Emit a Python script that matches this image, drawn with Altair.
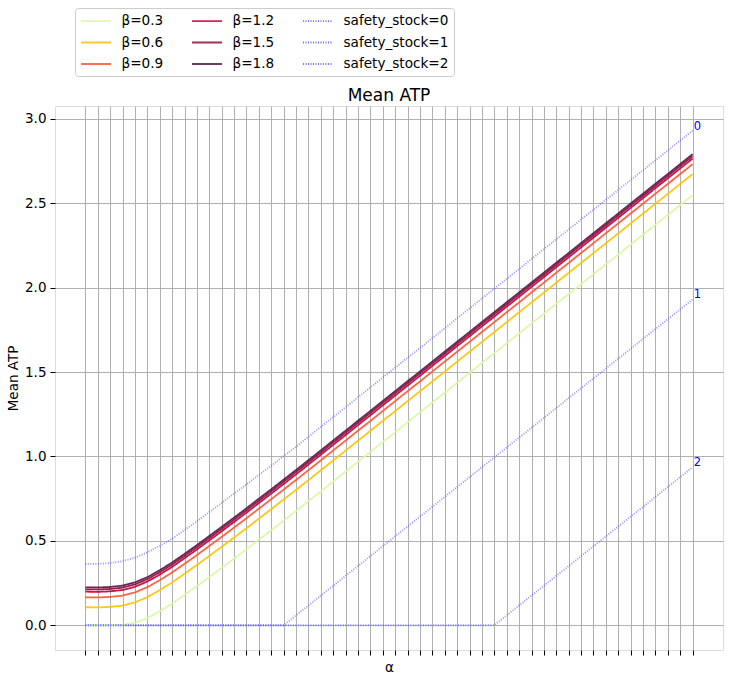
import altair as alt
import pandas as pd

idx = list(range(50))

beta_names = ["β=0.3", "β=0.6", "β=0.9", "β=1.2", "β=1.5", "β=1.8"]
beta_colors = ["#DAF7A6", "#FFC300", "#FF5733", "#C70039", "#900C3F", "#581845"]

b03 = [0.0, 0.0, 0.0, 0.003, 0.015, 0.042, 0.083, 0.129, 0.180, 0.232, 0.286, 0.340, 0.395, 0.450, 0.507,
       0.563, 0.620, 0.677, 0.735, 0.793, 0.852, 0.910, 0.969, 1.027, 1.086, 1.144, 1.203, 1.261, 1.320, 1.378,
       1.437, 1.495, 1.554, 1.612, 1.671, 1.729, 1.788, 1.846, 1.905, 1.963, 2.022, 2.080, 2.139, 2.197, 2.256,
       2.314, 2.373, 2.431, 2.490, 2.548]
b06 = [0.107, 0.106, 0.109, 0.117, 0.136, 0.167, 0.208, 0.254, 0.305, 0.357, 0.411, 0.465, 0.520, 0.575, 0.632,
       0.688, 0.745, 0.802, 0.860, 0.918, 0.977, 1.035, 1.094, 1.152, 1.211, 1.269, 1.328, 1.386, 1.445, 1.503,
       1.562, 1.620, 1.679, 1.737, 1.796, 1.854, 1.913, 1.971, 2.030, 2.088, 2.147, 2.205, 2.264, 2.322, 2.381,
       2.439, 2.498, 2.556, 2.615, 2.673]
b09 = [0.166, 0.165, 0.168, 0.176, 0.195, 0.226, 0.267, 0.313, 0.364, 0.416, 0.470, 0.524, 0.579, 0.634, 0.691,
       0.747, 0.804, 0.861, 0.919, 0.977, 1.036, 1.094, 1.153, 1.211, 1.270, 1.328, 1.387, 1.445, 1.504, 1.562,
       1.621, 1.679, 1.738, 1.796, 1.855, 1.913, 1.972, 2.030, 2.089, 2.147, 2.206, 2.264, 2.323, 2.381, 2.440,
       2.498, 2.557, 2.615, 2.674, 2.732]
b12 = [0.199, 0.198, 0.201, 0.209, 0.228, 0.259, 0.300, 0.346, 0.397, 0.449, 0.503, 0.557, 0.612, 0.667, 0.724,
       0.780, 0.837, 0.894, 0.952, 1.010, 1.069, 1.127, 1.186, 1.244, 1.303, 1.361, 1.420, 1.478, 1.537, 1.595,
       1.654, 1.712, 1.771, 1.829, 1.888, 1.946, 2.005, 2.063, 2.122, 2.180, 2.239, 2.297, 2.356, 2.414, 2.473,
       2.531, 2.590, 2.648, 2.707, 2.765]
b15 = [0.213, 0.212, 0.215, 0.223, 0.242, 0.273, 0.314, 0.360, 0.411, 0.463, 0.517, 0.571, 0.626, 0.681, 0.738,
       0.794, 0.851, 0.908, 0.966, 1.024, 1.083, 1.141, 1.200, 1.258, 1.317, 1.375, 1.434, 1.492, 1.551, 1.609,
       1.668, 1.726, 1.785, 1.843, 1.902, 1.960, 2.019, 2.077, 2.136, 2.194, 2.253, 2.311, 2.370, 2.428, 2.487,
       2.545, 2.604, 2.662, 2.721, 2.779]
b18 = [0.225, 0.224, 0.227, 0.235, 0.254, 0.285, 0.326, 0.372, 0.423, 0.475, 0.529, 0.583, 0.638, 0.693, 0.750,
       0.806, 0.863, 0.920, 0.978, 1.036, 1.095, 1.153, 1.212, 1.270, 1.329, 1.387, 1.446, 1.504, 1.563, 1.621,
       1.680, 1.738, 1.797, 1.855, 1.914, 1.972, 2.031, 2.089, 2.148, 2.206, 2.265, 2.323, 2.382, 2.440, 2.499,
       2.557, 2.616, 2.674, 2.733, 2.791]

ss_names = ["safety_stock=0", "safety_stock=1", "safety_stock=2"]
ss_text = ["0", "1", "2"]
ss0 = [0.363, 0.364, 0.368, 0.380, 0.400, 0.432, 0.470, 0.513, 0.564, 0.616, 0.671, 0.725, 0.780, 0.834, 0.890,
       0.945, 1.002, 1.058, 1.117, 1.175, 1.234, 1.292, 1.351, 1.409, 1.468, 1.526, 1.585, 1.643, 1.702, 1.760,
       1.819, 1.877, 1.936, 1.994, 2.053, 2.111, 2.170, 2.228, 2.287, 2.345, 2.404, 2.462, 2.521, 2.579, 2.638,
       2.696, 2.755, 2.813, 2.872, 2.930]
ss1 = [0.0] * 17 + [0.059, 0.117, 0.176, 0.234, 0.293, 0.351, 0.410, 0.468, 0.527, 0.585, 0.644, 0.702, 0.761,
                    0.819, 0.878, 0.936, 0.995, 1.053, 1.112, 1.170, 1.229, 1.287, 1.346, 1.404, 1.463, 1.521,
                    1.580, 1.638, 1.697, 1.755, 1.814, 1.872, 1.931]
ss2 = [0.0] * 34 + [0.059, 0.117, 0.176, 0.234, 0.293, 0.351, 0.410, 0.468, 0.527, 0.585, 0.644, 0.702, 0.761,
                    0.819, 0.878, 0.936]

y_ticks = [0.0, 0.5, 1.0, 1.5, 2.0, 2.5, 3.0]
chart_title = "Mean ATP"

FONT = "DejaVu Sans"

beta_rows = []
for name, vals in zip(beta_names, [b03, b06, b09, b12, b15, b18]):
    for i, v in zip(idx, vals):
        beta_rows.append({"i": i, "v": v, "s": name})
beta_df = pd.DataFrame(beta_rows)

ss_rows = []
for name, vals in zip(ss_names, [ss0, ss1, ss2]):
    for i, v in zip(idx, vals):
        ss_rows.append({"i": i, "v": v, "s": name})
ss_df = pd.DataFrame(ss_rows)

lab_df = pd.DataFrame({
    "i": [idx[-1]] * 3,
    "v": [ss0[-1], ss1[-1], ss2[-1]],
    "t": ss_text,
})

# legend fills column by column (3 rows per column)
all_names = beta_names + ss_names
color_map = dict(zip(beta_names, beta_colors))
for n in ss_names:
    color_map[n] = "#5555ff"
dash_map = {n: [1, 0] for n in beta_names}
for n in ss_names:
    dash_map[n] = [1, 1.5]
width_map = {n: 1.8 for n in beta_names}
for n in ss_names:
    width_map[n] = 0.6

leg = alt.Legend(title=None, orient="none", legendX=20, legendY=-98, columns=3,
                 values=all_names,
                 symbolType="M-1,0H3.286", symbolSize=196, labelFontSize=13.6, labelFont=FONT,
                 labelOffset=25.5, columnPadding=24, rowPadding=6.5, padding=5,
                 strokeColor="#cccccc", fillColor="white", cornerRadius=3, labelColor="black",
                 symbolOpacity=0.85)

x_enc = alt.X("i:Q", scale=alt.Scale(domain=[-2.45, 51.45], nice=False, zero=False),
              axis=alt.Axis(values=idx, labels=False, title="α", tickSize=5, tickColor="black",
                            grid=True, gridColor="#b0b0b0", gridWidth=1, domain=False,
                            titleFont=FONT, titleFontSize=13.5, titleFontWeight="normal",
                            titlePadding=5, titleColor="black"))
y_enc = alt.Y("v:Q", scale=alt.Scale(domain=[-0.1465, 3.0765], nice=False, zero=False),
              axis=alt.Axis(values=y_ticks, format=".1f", title="Mean ATP", tickSize=5,
                            tickColor="black", grid=True, gridColor="#b0b0b0", gridWidth=1,
                            domain=False, labelFont=FONT, labelFontSize=13.5, labelColor="black",
                            labelPadding=4, titleFont=FONT, titleFontSize=13.5,
                            titleFontWeight="normal", titlePadding=4, titleColor="black"))

color_enc = alt.Color("s:N", scale=alt.Scale(domain=all_names,
                                             range=[color_map[n] for n in all_names]), legend=leg)
dash_enc = alt.StrokeDash("s:N", scale=alt.Scale(domain=all_names,
                                                 range=[dash_map[n] for n in all_names]), legend=leg)
width_enc = alt.StrokeWidth("s:N", scale=alt.Scale(domain=all_names,
                                                   range=[width_map[n] for n in all_names]), legend=leg)

beta_layer = alt.Chart(beta_df).mark_line(opacity=0.92).encode(
    x=x_enc, y=y_enc, color=color_enc, strokeDash=dash_enc, strokeWidth=width_enc,
    detail="s:N")
ss_layer = alt.Chart(ss_df).mark_line(opacity=0.65).encode(
    x=x_enc, y=y_enc, color=color_enc, strokeDash=dash_enc, strokeWidth=width_enc,
    detail="s:N")
text_layer = alt.Chart(lab_df).mark_text(align="left", baseline="bottom", dx=1, dy=1,
                                         color="blue", fontSize=11.5, font=FONT).encode(
    x=x_enc, y=y_enc, text="t:N")
title_layer = alt.Chart(pd.DataFrame({"t": [chart_title]})).mark_text(
    align="center", baseline="alphabetic", fontSize=17, font=FONT, color="black").encode(
    x=alt.value(334), y=alt.value(-5), text="t:N")

chart = alt.layer(beta_layer, ss_layer, text_layer, title_layer).properties(
    width=668, height=544,
    padding={"left": 55, "top": 106, "right": 11, "bottom": 32},
    autosize=alt.AutoSizeParams(type="none"),
).configure_view(stroke="black", strokeWidth=1).configure(background="white")

chart.save("out.html", embed_options={"renderer": "svg", "actions": False})
